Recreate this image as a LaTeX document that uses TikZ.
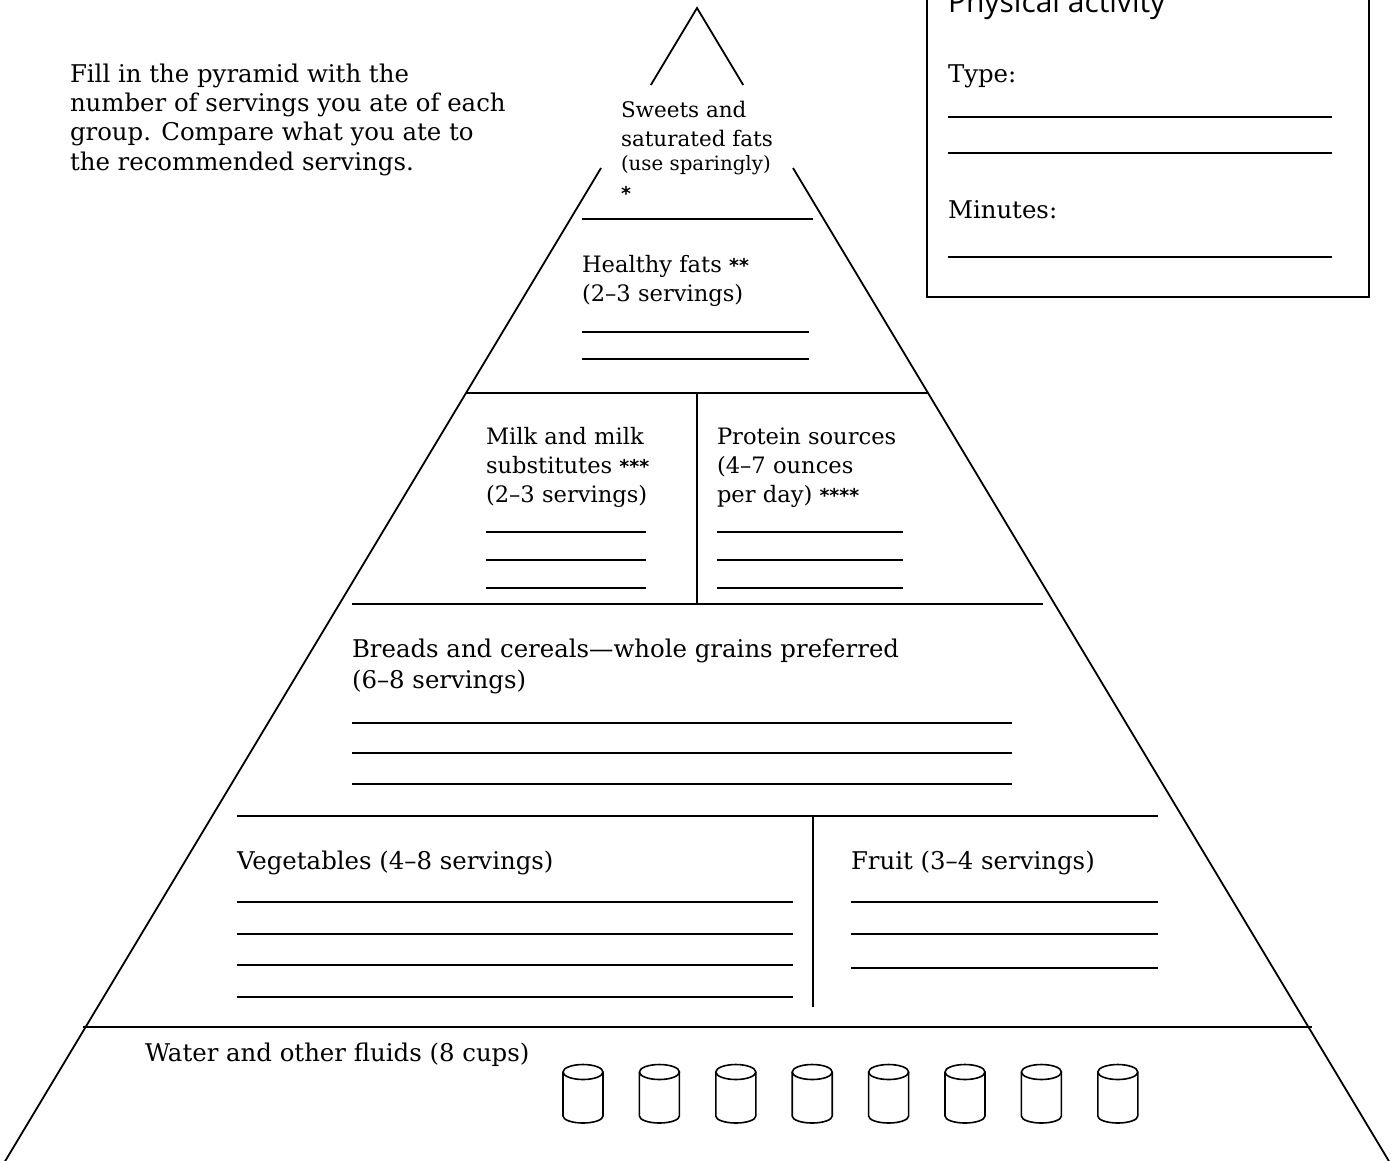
\documentclass[tikz,border=0pt]{standalone}
\usepackage{fontspec}
\setmainfont{DejaVu Serif}
\newfontfamily\headfont{Open Sans}
\newfontfamily\starfont{DejaVu Sans}
\newcommand\mystars[1]{{\starfont\bfseries\fontsize{19}{19}\selectfont #1}}
\begin{document}
\begin{tikzpicture}[x=1pt,y=-1pt,
  every node/.style={inner sep=0pt,outer sep=0pt},
  frame/.style={line width=1.8pt},
  blank/.style={line width=1.3pt},
  maintxt/.style={anchor=base west,font=\fontsize{24.4}{29}\selectfont},
  labtxt/.style={anchor=base west,font=\fontsize{22.6}{27}\selectfont},
  sweettxt/.style={anchor=base west,font=\fontsize{21.5}{26}\selectfont},
  smalltxt/.style={anchor=base west,font=\fontsize{19.8}{24}\selectfont},
  headtxt/.style={anchor=base west,font=\headfont\fontsize{30}{34}\selectfont},
  cup/.style={line width=1.6pt}]
\fill[white] (0,0) rectangle (1396,1160);
\useasboundingbox (0,0) rectangle (1396,1160);

% pyramid outline
\coordinate (apex) at (697,8);
\coordinate (lg1) at (650.8,85);
\coordinate (rg1) at (743.2,85);
\coordinate (lg2) at (601,168);
\coordinate (rg2) at (793,168);
\coordinate (lb) at (2.8,1165);
\coordinate (rb) at (1391.2,1165);
\draw[frame] (lg1) -- (apex) -- (rg1);
\draw[frame] (lg2) -- (lb);
\draw[frame] (rg2) -- (rb);

% tier dividers
\draw[frame] (582,219) -- (813,219);
\draw[frame] (466,393) -- (928,393);
\draw[frame] (697,393) -- (697,604);
\draw[frame] (352,604) -- (1043,604);
\draw[frame] (237,816) -- (1158,816);
\draw[frame] (813,816) -- (813,1007);
\draw[frame] (83,1027) -- (1312,1027);

% blanks
\foreach \y in {332,359} \draw[blank] (582,\y) -- (809,\y);
\foreach \y in {532,560,588} {\draw[blank] (486,\y) -- (646,\y); \draw[blank] (717,\y) -- (903,\y);}
\foreach \y in {723,753,784} \draw[blank] (352,\y) -- (1012,\y);
\foreach \y in {902,934,965,997} \draw[blank] (237,\y) -- (793,\y);
\foreach \y in {902,934,968} \draw[blank] (851,\y) -- (1158,\y);

% physical activity box
\draw[frame] (927,-20) -- (927,297) -- (1369,297) -- (1369,-20);
\foreach \y in {117,153,257} \draw[blank] (948,\y) -- (1332,\y);
\node[headtxt] (pa) at (948,12) {Physical activity};
\node[maintxt] (type) at (948,82) {Type:};
\node[maintxt] (minutes) at (948,218) {Minutes:};

% instructions
\node[maintxt] (fill1) at (70,82) {Fill in the pyramid with the};
\node[maintxt] (fill2) at (70,111) {number of servings you ate of each};
\node[maintxt] (fill3) at (70,140) {group. Compare what you ate to};
\node[maintxt] (fill4) at (70,170) {the recommended servings.};

% tier labels
\node[sweettxt] (sw1) at (621,117) {Sweets and};
\node[sweettxt] (sw2) at (621,146) {saturated fats};
\node[smalltxt] (sw3) at (621,170) {(use sparingly)};
\node[anchor=base west] (sw4) at (621,200) {\mystars{*}};

\node[labtxt] (hf1) at (582,272) {Healthy fats \mystars{**}};
\node[labtxt] (hf2) at (582,301) {(2–3 servings)};

\node[labtxt] (mk1) at (486,444) {Milk and milk};
\node[labtxt] (mk2) at (486,473) {substitutes \mystars{***}};
\node[labtxt] (mk3) at (486,502) {(2–3 servings)};

\node[labtxt] (pr1) at (717,444) {Protein sources};
\node[labtxt] (pr2) at (717,473) {(4–7 ounces};
\node[labtxt] (pr3) at (717,502) {per day) \mystars{****}};

\node[maintxt] (br1) at (352,657) {Breads and cereals—whole grains preferred};
\node[maintxt] (br2) at (352,688) {(6–8 servings)};

\node[maintxt] (veg) at (237,869) {Vegetables (4–8 servings)};
\node[maintxt] (fruit) at (851,869) {Fruit (3–4 servings)};

\node[maintxt] (water) at (145,1061) {Water and other fluids (8 cups)};

% cups
\foreach \i in {0,...,7} {
  \pgfmathsetmacro\cx{583+76.4*\i}
  \draw[cup] (\cx,1072) ellipse [x radius=20pt, y radius=7.5pt];
  \draw[cup] (\cx-20,1072) -- (\cx-20,1116) arc[start angle=180, end angle=360, x radius=20pt, y radius=7pt] -- (\cx+20,1072);
}
\end{tikzpicture}
\end{document}
